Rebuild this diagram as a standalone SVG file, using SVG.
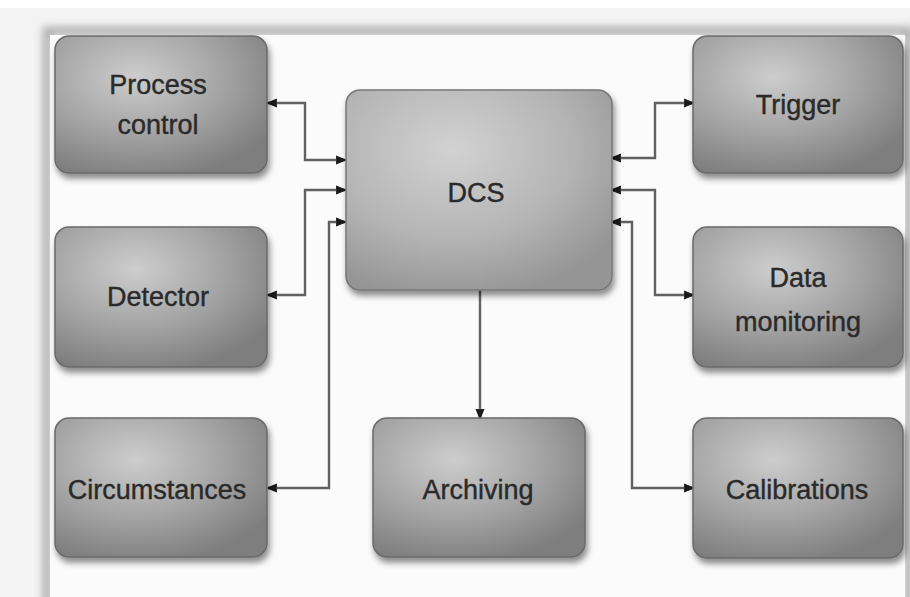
<svg xmlns="http://www.w3.org/2000/svg" width="910" height="597" viewBox="0 0 910 597">
<defs>
<radialGradient id="g" cx="38%" cy="30%" r="75%">
<stop offset="0" stop-color="#cdcdcd"/>
<stop offset="0.55" stop-color="#a4a4a4"/>
<stop offset="1" stop-color="#7e7e7e"/>
</radialGradient>
<radialGradient id="gd" cx="40%" cy="30%" r="75%">
<stop offset="0" stop-color="#d2d2d2"/>
<stop offset="0.6" stop-color="#b4b4b4"/>
<stop offset="1" stop-color="#959595"/>
</radialGradient>
<filter id="sh" x="-10%" y="-10%" width="130%" height="135%">
<feDropShadow dx="2" dy="5" stdDeviation="3" flood-color="#000" flood-opacity="0.45"/>
</filter>
<filter id="bl" x="-5%" y="-5%" width="110%" height="110%">
<feGaussianBlur stdDeviation="4"/>
</filter>
<marker id="a" viewBox="0 0 10 10" refX="9" refY="5" markerWidth="10" markerHeight="10" markerUnits="userSpaceOnUse" orient="auto-start-reverse">
<path d="M0,1 L10,5 L0,9 Q2,5 0,1 z" fill="#1a1a1a" stroke="#1a1a1a" stroke-width="1" stroke-linejoin="round"/>
</marker>
</defs>
<style>
.box{fill:url(#g);stroke:#6a6a6a;stroke-width:1.5;filter:url(#sh)}
.dcs{fill:url(#gd);stroke:#777;stroke-width:1.5;filter:url(#sh)}
.t{font-family:"Liberation Sans",Arial,sans-serif;font-size:27px;fill:#2a2a2a;stroke:#2a2a2a;stroke-width:0.4;text-anchor:middle}
.c{fill:none;stroke:#606060;stroke-width:2.4;marker-start:url(#a);marker-end:url(#a)}
.c1{fill:none;stroke:#606060;stroke-width:2.4;marker-end:url(#a)}
</style>
<rect x="0" y="0" width="910" height="597" fill="#ffffff"/>
<rect x="0" y="8" width="910" height="589" fill="#f3f3f3"/>
<rect x="47" y="31" width="862" height="580" fill="none" stroke="#a8a8a8" stroke-width="8" filter="url(#bl)"/>
<rect x="50" y="35" width="855" height="570" fill="#fbfbfb"/>

<g id="connectors">
<path class="c" d="M268,103 H305 V160 H345"/>
<path class="c" d="M345,190 H305 V295 H268"/>
<path class="c" d="M345,222 H329 V488 H268"/>
<path class="c" d="M612,158 H655 V103 H693"/>
<path class="c" d="M612,190 H655 V295 H693"/>
<path class="c" d="M612,222 H632 V488 H693"/>
<path class="c1" d="M480,290 V418"/>
</g>

<g id="process-control">
<rect class="box" x="55" y="36" width="212" height="137" rx="14"/>
<text class="t" x="158" y="94">Process</text>
<text class="t" x="158" y="134">control</text>
</g>
<g id="detector">
<rect class="box" x="55" y="227" width="212" height="140" rx="14"/>
<text class="t" x="158" y="306">Detector</text>
</g>
<g id="circumstances">
<rect class="box" x="55" y="418" width="212" height="139" rx="14"/>
<text class="t" x="157" y="499">Circumstances</text>
</g>
<g id="dcs">
<rect class="dcs" x="346" y="90" width="266" height="200" rx="14"/>
<text class="t" x="476" y="202">DCS</text>
</g>
<g id="archiving">
<rect class="box" x="373" y="418" width="212" height="139" rx="14"/>
<text class="t" x="478" y="499">Archiving</text>
</g>
<g id="trigger">
<rect class="box" x="693" y="36" width="210" height="137" rx="14"/>
<text class="t" x="798" y="114">Trigger</text>
</g>
<g id="data-monitoring">
<rect class="box" x="693" y="227" width="210" height="140" rx="14"/>
<text class="t" x="798" y="287">Data</text>
<text class="t" x="798" y="331">monitoring</text>
</g>
<g id="calibrations">
<rect class="box" x="693" y="418" width="210" height="140" rx="14"/>
<text class="t" x="797" y="499">Calibrations</text>
</g>
</svg>
